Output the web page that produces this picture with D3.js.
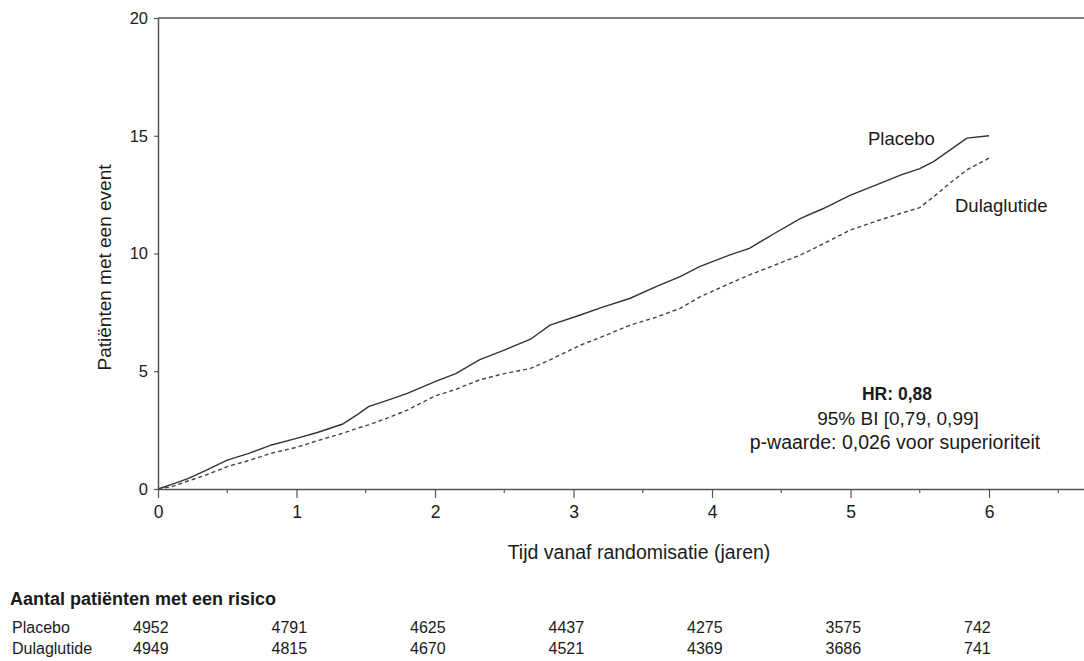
<!DOCTYPE html>
<html lang="nl">
<head>
  <meta charset="UTF-8">
  <title>Patiënten met een event</title>
  <script src="https://d3js.org/d3.v7.min.js"></script>
  <style>
    body {
      margin: 0;
      background: #fff;
      font-family: "Liberation Sans", Arial, sans-serif;
    }
    svg text {
      fill: #1a1a1a;
    }
  </style>
</head>
<body>
  <svg id="chart" width="1084" height="661"></svg>

  <script>
    // cumulative % patients with an event
    const years = [0, 0.1, 0.22, 0.35, 0.5, 0.65, 0.82, 1.0, 1.15, 1.33, 1.45, 1.52, 1.65, 1.8,
      2.0, 2.15, 2.32, 2.5, 2.69, 2.83, 3.05, 3.2, 3.41, 3.6, 3.77, 3.91, 4.13, 4.27, 4.45,
      4.64, 4.8, 5.0, 5.2, 5.36, 5.5, 5.6, 5.72, 5.84, 6.0];
    const placebo = [0, 0.2, 0.45, 0.8, 1.23, 1.5, 1.87, 2.15, 2.4, 2.75, 3.2, 3.5, 3.75, 4.06,
      4.56, 4.9, 5.48, 5.9, 6.36, 6.96, 7.39, 7.7, 8.1, 8.6, 9.02, 9.44, 9.94, 10.22, 10.85,
      11.49, 11.9, 12.48, 12.95, 13.33, 13.6, 13.9, 14.4, 14.9, 15.0];
    const dulaglutide = [0, 0.1, 0.35, 0.6, 0.95, 1.2, 1.52, 1.77, 2.05, 2.36, 2.6, 2.72, 3.0, 3.35,
      3.95, 4.23, 4.63, 4.9, 5.12, 5.48, 6.11, 6.45, 6.96, 7.3, 7.67, 8.15, 8.73, 9.09, 9.5,
      9.94, 10.4, 11.0, 11.4, 11.7, 11.95, 12.41, 13.0, 13.55, 14.05];

    const yTicks = [0, 5, 10, 15, 20];
    const xTicks = [0, 1, 2, 3, 4, 5, 6];
    const xMinorTicks = [0.5, 1.5, 2.5, 3.5, 4.5, 5.5, 6.5];

    // numbers at risk
    const riskYears = [0, 1, 2, 3, 4, 5, 6];
    const riskPlacebo = [4952, 4791, 4625, 4437, 4275, 3575, 742];
    const riskDulaglutide = [4949, 4815, 4670, 4521, 4369, 3686, 741];

    const statLines = ["HR: 0,88", "95% BI [0,79, 0,99]", "p-waarde: 0,026 voor superioriteit"];

    const svg = d3.select("#chart");
    const axisColor = "#555";

    const x = d3.scaleLinear().domain([0, 6.7]).range([158, 158 + 6.7 * 138.5]);
    const y = d3.scaleLinear().domain([0, 20]).range([489, 18]);

    // top border
    svg.append("line")
      .attr("x1", x(0)).attr("x2", 1084)
      .attr("y1", y(20)).attr("y2", y(20))
      .attr("stroke", axisColor).attr("stroke-width", 1.5);

    // y axis
    const yAxis = svg.append("g")
      .attr("transform", `translate(${x(0)},0)`)
      .call(d3.axisLeft(y).tickValues(yTicks).tickSize(4).tickPadding(6).tickSizeOuter(0));
    yAxis.select(".domain").attr("stroke", axisColor).attr("stroke-width", 1.5);
    yAxis.selectAll(".tick line").attr("stroke", axisColor).attr("stroke-width", 1.2);
    yAxis.selectAll(".tick text")
      .attr("font-family", "Liberation Sans, Arial, sans-serif")
      .attr("font-size", 16.5).attr("fill", "#1a1a1a");

    // x axis
    const xAxis = svg.append("g")
      .attr("transform", `translate(0,${y(0)})`)
      .call(d3.axisBottom(x).tickValues(xTicks).tickFormat(d3.format("d"))
        .tickSize(9).tickPadding(8).tickSizeOuter(0));
    xAxis.select(".domain").attr("stroke", axisColor).attr("stroke-width", 1.5);
    xAxis.selectAll(".tick line").attr("stroke", axisColor).attr("stroke-width", 1.2);
    xAxis.selectAll(".tick text")
      .attr("font-family", "Liberation Sans, Arial, sans-serif")
      .attr("font-size", 17.5).attr("fill", "#1a1a1a");

    svg.append("g")
      .selectAll("line")
      .data(xMinorTicks)
      .join("line")
      .attr("x1", d => x(d)).attr("x2", d => x(d))
      .attr("y1", y(0)).attr("y2", y(0) + 4)
      .attr("stroke", axisColor).attr("stroke-width", 1.2);

    // axis titles
    svg.append("text")
      .attr("transform", `translate(111,${(y(0) + y(20)) / 2 + 14}) rotate(-90)`)
      .attr("text-anchor", "middle")
      .attr("font-size", 19)
      .text("Patiënten met een event");

    svg.append("text")
      .attr("x", 639).attr("y", 559)
      .attr("text-anchor", "middle")
      .attr("font-size", 19.5)
      .text("Tijd vanaf randomisatie (jaren)");

    // curves
    const line = d3.line()
      .x(d => x(d[0]))
      .y(d => y(d[1]))
      .curve(d3.curveLinear);

    svg.append("path")
      .datum(years.map((t, i) => [t, placebo[i]]))
      .attr("d", line)
      .attr("fill", "none")
      .attr("stroke", "#333")
      .attr("stroke-width", 1.4);

    svg.append("path")
      .datum(years.map((t, i) => [t, dulaglutide[i]]))
      .attr("d", line)
      .attr("fill", "none")
      .attr("stroke", "#444")
      .attr("stroke-width", 1.4)
      .attr("stroke-dasharray", "4,3");

    // curve labels
    svg.append("text")
      .attr("x", 868).attr("y", 145)
      .attr("font-size", 18.5)
      .text("Placebo");

    svg.append("text")
      .attr("x", 955).attr("y", 212)
      .attr("font-size", 18.5)
      .text("Dulaglutide");

    // hazard ratio block
    const stat = svg.append("g").attr("text-anchor", "middle");
    stat.append("text")
      .attr("x", 897).attr("y", 400)
      .attr("font-size", 17.5).attr("font-weight", "bold")
      .text(statLines[0]);
    stat.append("text")
      .attr("x", 898).attr("y", 425)
      .attr("font-size", 19)
      .text(statLines[1]);
    stat.append("text")
      .attr("x", 895).attr("y", 449)
      .attr("font-size", 19.5)
      .text(statLines[2]);

    // numbers at risk table
    svg.append("text")
      .attr("x", 10).attr("y", 605)
      .attr("font-size", 18).attr("font-weight", "bold")
      .text("Aantal patiënten met een risico");

    const rows = [
      { label: "Placebo", values: riskPlacebo, y: 633 },
      { label: "Dulaglutide", values: riskDulaglutide, y: 654 }
    ];

    rows.forEach(r => {
      svg.append("text")
        .attr("x", 12).attr("y", r.y)
        .attr("font-size", 16)
        .text(r.label);

      svg.append("g")
        .selectAll("text")
        .data(r.values)
        .join("text")
        .attr("x", (d, i) => x(riskYears[i]) - 25)
        .attr("y", r.y)
        .attr("font-size", 16)
        .text(d => d);
    });
  </script>
</body>
</html>
